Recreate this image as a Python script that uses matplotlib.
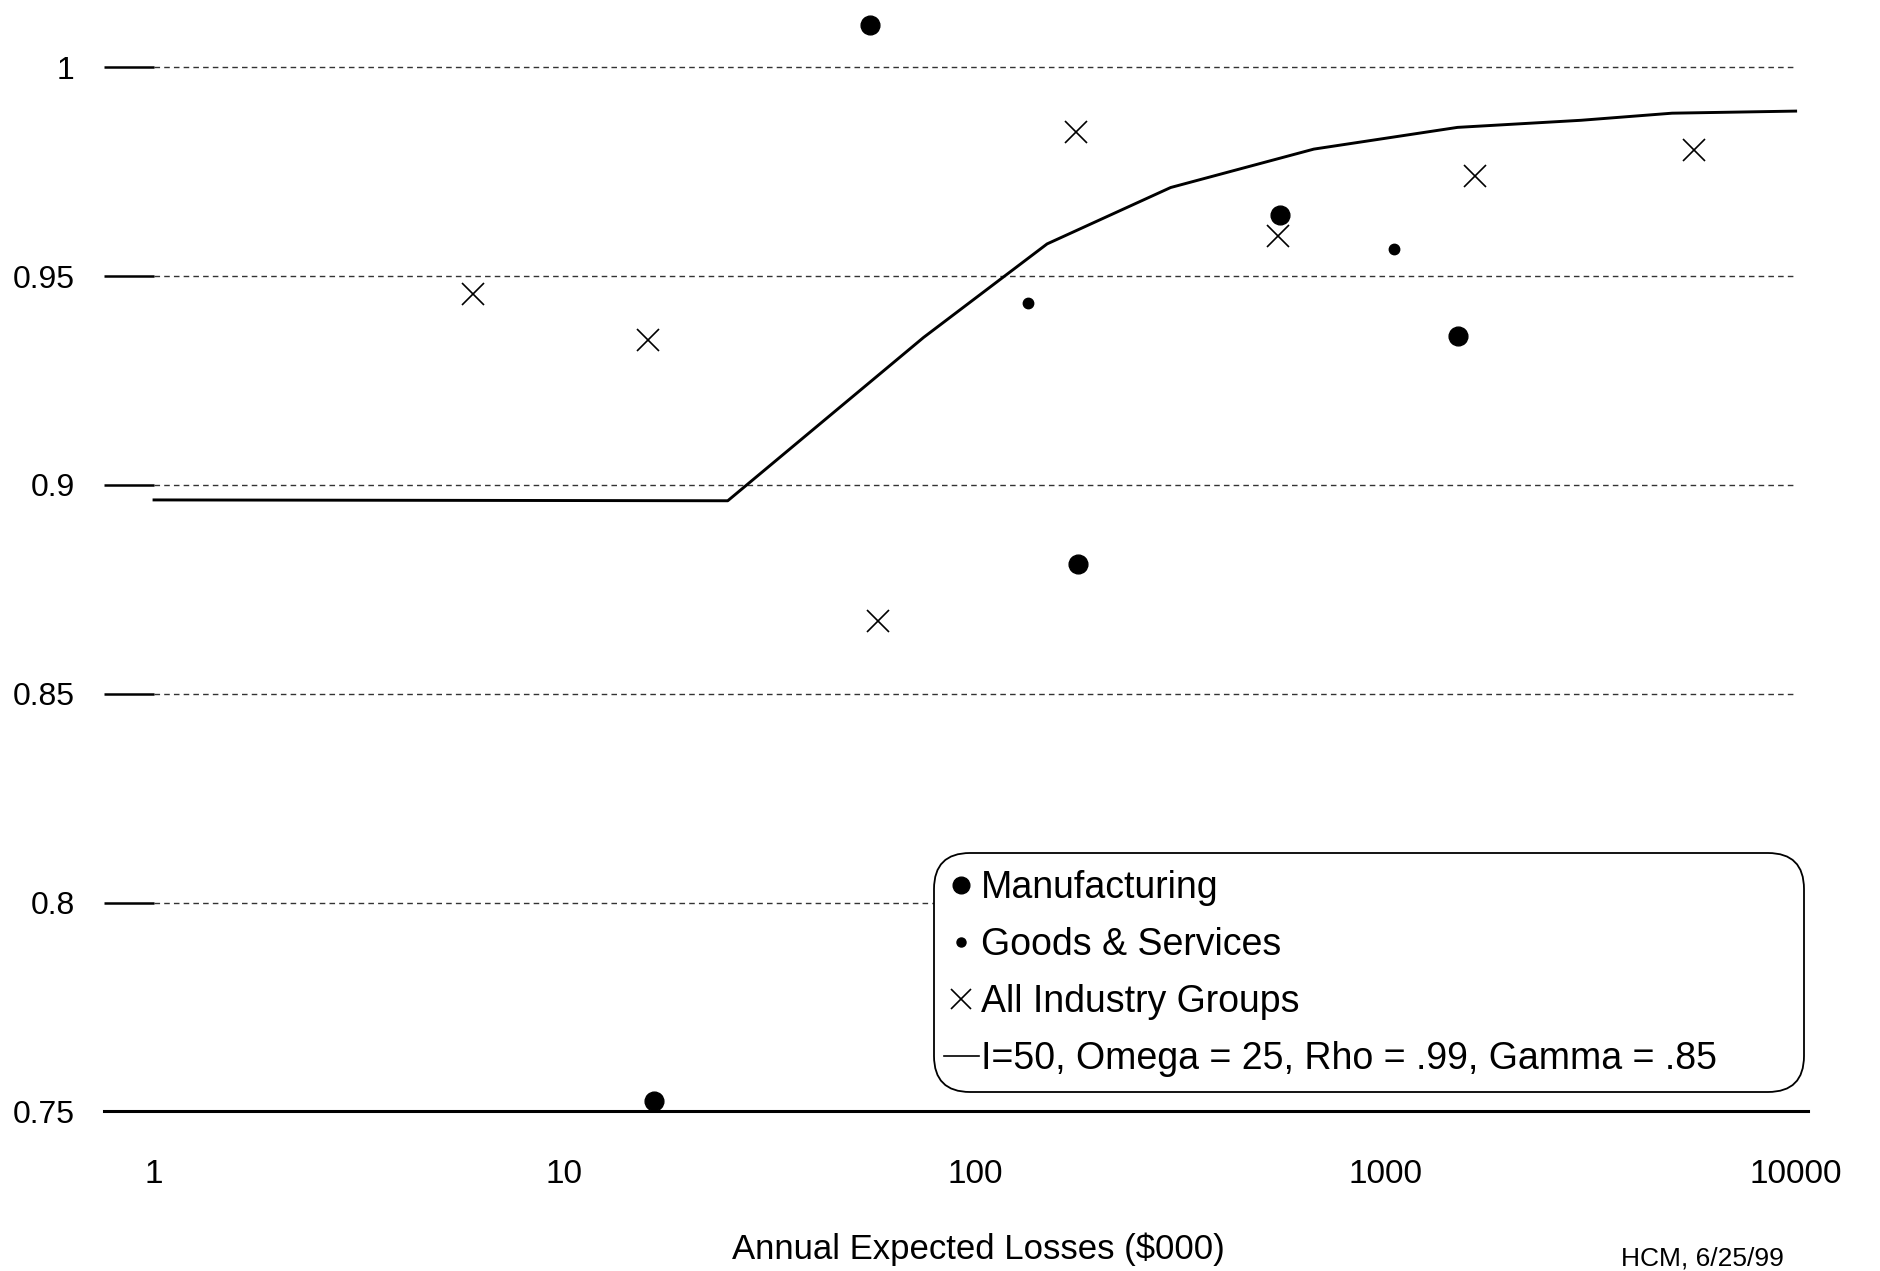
#!/usr/bin/env python3
"""
Retention ratio vs. annual expected losses, by industry group, with the
fitted I/Omega/Rho/Gamma curve on a log x axis.
"""
import matplotlib
matplotlib.use("Agg")
import matplotlib.pyplot as plt
from matplotlib.lines import Line2D
from matplotlib.patches import FancyBboxPatch

plt.rcParams["font.family"] = ["Liberation Sans", "DejaVu Sans"]

# observed ratios per group (x = annual expected losses, $000)
mfg_x = [16.5, 55.5, 178, 555, 1503]
mfg_y = [0.7525, 1.010, 0.881, 0.9646, 0.9357]

goods_x = [135, 1052]
goods_y = [0.9435, 0.9565]

all_x = [6.0, 16.0, 58, 176, 548, 1652, 5660]
all_y = [0.9458, 0.9347, 0.8675, 0.9844, 0.9597, 0.9739, 0.9802]

# model curve: I=50, Omega=25, Rho=.99, Gamma=.85
curve_x = [1, 25, 75, 150, 300, 670, 1500, 3000, 5000, 10000]
curve_y = [0.8964, 0.8962, 0.9353, 0.9577, 0.9712, 0.9804, 0.9856, 0.9873,
           0.9890, 0.9895]

y_ticks = [0.75, 0.8, 0.85, 0.9, 0.95, 1.0]
y_tick_labels = ["0.75", "0.8", "0.85", "0.9", "0.95", "1"]
x_ticks = [1, 10, 100, 1000, 10000]
x_tick_labels = ["1", "10", "100", "1000", "10000"]

labels = ["Manufacturing", "Goods & Services", "All Industry Groups",
          "I=50, Omega = 25, Rho = .99, Gamma = .85"]

fig = plt.figure(figsize=(18.81, 12.71), dpi=100)
ax = fig.add_axes([0.0553, 0.1256, 0.9059, 0.8744])
ax.set_xscale("log")
ax.set_xlim(0.7553, 10720)
ax.set_ylim(0.75, 1.0161)

# dashed grid from x=1 to the last decade
for y in y_ticks[1:]:
    ax.hlines(y, x_ticks[0], x_ticks[-1], colors="#333333", linewidth=1.0,
              linestyles=(0, (4, 3)), zorder=1)

ax.plot(curve_x, curve_y, color="black", linewidth=2.1, zorder=3)
ax.plot(mfg_x, mfg_y, "o", color="black", markersize=13.5, linestyle="none", zorder=4)
ax.plot(goods_x, goods_y, "o", color="black", markersize=7.5, linestyle="none", zorder=4)
ax.plot(all_x, all_y, "x", color="black", markersize=16, markeredgewidth=1.2,
        linestyle="none", zorder=4)

for side in ("top", "right", "left"):
    ax.spines[side].set_visible(False)
ax.spines["bottom"].set_linewidth(2.2)

ax.set_yticks(y_ticks)
ax.set_yticklabels(y_tick_labels)
ax.tick_params(axis="y", direction="in", length=36, width=1.8, pad=21,
               labelsize=23)
ax.set_xticks(x_ticks)
ax.set_xticklabels(x_tick_labels)
ax.xaxis.set_minor_locator(matplotlib.ticker.NullLocator())
ax.tick_params(axis="x", length=0, pad=34, labelsize=24)

fig.text(0.52, 0.017, "Annual Expected Losses ($000)", ha="center", va="center",
         fontsize=25)
fig.text(0.905, 0.010, "HCM, 6/25/99", ha="center", va="center", fontsize=19)

# rounded legend frame, drawn in inches so the corners stay circular
box = FancyBboxPatch((9.34, 1.79), 8.70, 2.39,
                     boxstyle="round,pad=0,rounding_size=0.36",
                     transform=fig.dpi_scale_trans, facecolor="white",
                     edgecolor="black", linewidth=1.3, zorder=5)
fig.patches.append(box)

handles = [
    Line2D([], [], marker="o", color="black", markersize=12, linestyle="none"),
    Line2D([], [], marker="o", color="black", markersize=6.5, linestyle="none"),
    Line2D([], [], marker="x", color="black", markersize=14, markeredgewidth=1.2,
           linestyle="none"),
    Line2D([], [], color="black", linewidth=1.2),
]
leg = fig.legend(handles, labels, loc="upper left",
                 bbox_to_anchor=(944 / 1881, 1 - 870 / 1271),
                 borderaxespad=0, borderpad=0, fontsize=27, handlelength=0.92,
                 handletextpad=0.06, labelspacing=0.56, numpoints=1,
                 frameon=False)
leg.set_zorder(6)

fig.savefig("out.png", dpi=100)
plt.close(fig)
